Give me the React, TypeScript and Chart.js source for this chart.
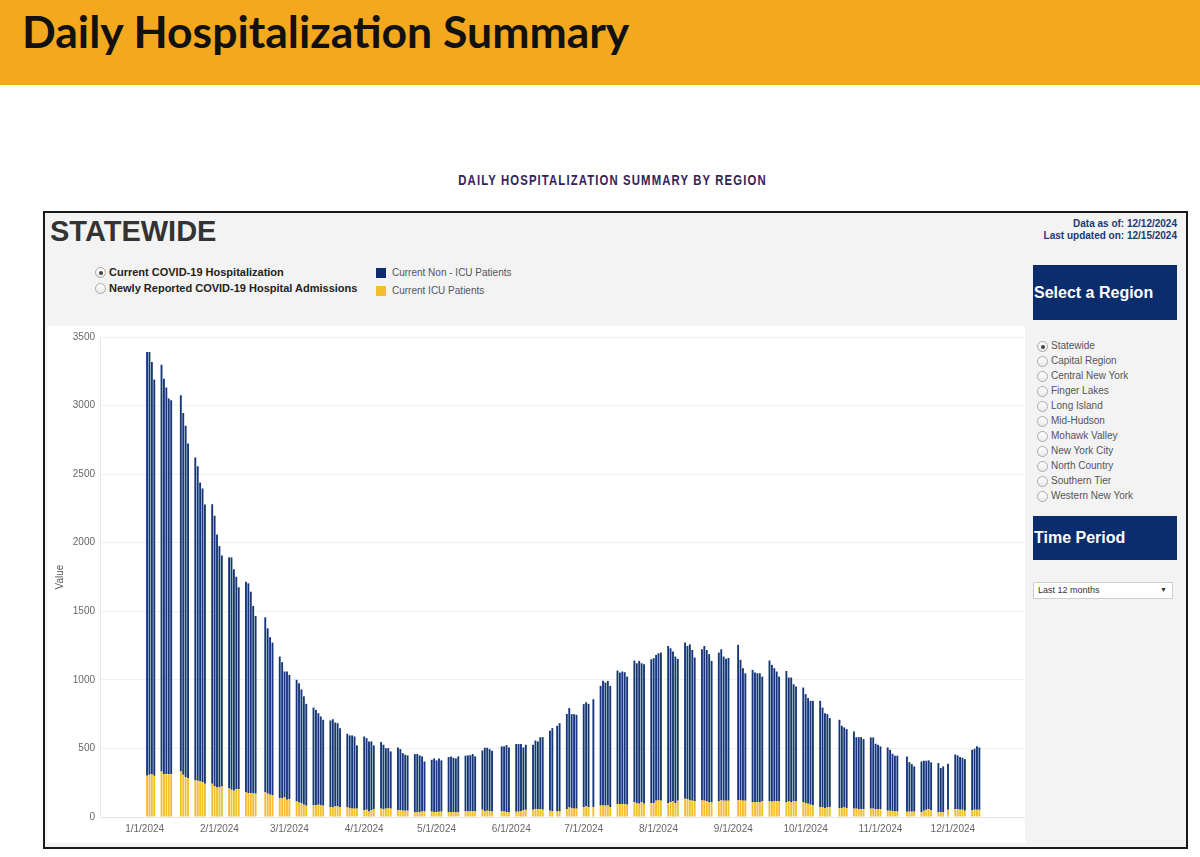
import React, { useEffect, useRef } from "react";
import { Chart, registerables } from "chart.js";

Chart.register(...registerables);

// Reporting calendar: weekdays between these dates, skipping holidays
const firstReportDay = "2024-01-02";
const lastReportDay = "2024-12-12";
const holidays = [
  "2024-01-15", "2024-02-19", "2024-05-27", "2024-06-19", "2024-07-04",
  "2024-09-02", "2024-10-14", "2024-11-11", "2024-11-28",
];

// Visible date window of the x axis
const axisFirstDay = "2023-12-14";
const axisLastDay = "2024-12-30";

const monthTickLabels = [
  "1/1/2024", "2/1/2024", "3/1/2024", "4/1/2024", "5/1/2024", "6/1/2024",
  "7/1/2024", "8/1/2024", "9/1/2024", "10/1/2024", "11/1/2024", "12/1/2024",
];

const yTicks = [0, 500, 1000, 1500, 2000, 2500, 3000, 3500];

// Current ICU patients, one value per reporting day (one line per week)
const icuPatients = [
  300, 308, 312, 300,
  332, 313, 313, 313, 313,
  332, 308, 291, 284,
  267, 265, 260, 255, 243,
  243, 225, 216, 218, 223,
  211, 199, 192, 204, 204,
  180, 175, 175, 175, 170,
  180, 170, 163, 158,
  138, 138, 143, 126, 131,
  114, 105, 100, 90, 83,
  85, 85, 90, 85, 83,
  73, 73, 78, 78, 73,
  70, 66, 61, 61, 61,
  49, 53, 41, 49, 58,
  61, 58, 61, 63, 61,
  49, 49, 46, 46, 46,
  36, 36, 36, 41, 40,
  39, 36, 36, 39, 39,
  36, 36, 34, 34, 34,
  41, 41, 41, 41, 41,
  53, 41, 46, 41, 41,
  41, 41, 36, 36,
  39, 39, 44, 49, 53,
  53, 58, 58, 58, 53,
  46, 41, 41, 41,
  58, 70, 66, 61, 61,
  73, 78, 73, 73,
  83, 83, 83, 85, 73,
  95, 95, 95, 95, 90,
  109, 102, 97, 109, 97,
  102, 102, 119, 121, 119,
  102, 109, 114, 102, 119,
  133, 131, 121, 119, 114,
  121, 119, 114, 109, 107,
  114, 121, 119, 119, 119,
  121, 121, 119, 119,
  107, 107, 107, 109, 114,
  114, 112, 114, 116, 114,
  107, 114, 109, 114, 114,
  109, 102, 97, 90, 85,
  73, 70, 66, 70, 73,
  66, 66, 70, 66,
  61, 61, 58, 58, 58,
  61, 61, 58, 58, 58,
  46, 46, 41, 41, 41,
  39, 39, 39, 39,
  36, 46, 53, 58, 49,
  34, 34, 36, 53,
  58, 58, 53, 53, 46,
  49, 53, 53, 53,
];

// Current non-ICU patients, same reporting days
const nonIcuPatients = [
  3090, 3082, 3006, 2891,
  2966, 2883, 2818, 2738, 2726,
  2743, 2638, 2561, 2439,
  2354, 2293, 2179, 2140, 2036,
  2038, 1971, 1844, 1757, 1684,
  1682, 1694, 1614, 1548, 1471,
  1536, 1529, 1468, 1364, 1296,
  1276, 1206, 1148, 1114,
  1032, 991, 918, 935, 905,
  886, 870, 830, 790, 742,
  713, 696, 667, 648, 626,
  631, 640, 611, 606, 575,
  537, 529, 534, 526, 461,
  538, 522, 510, 502, 464,
  485, 469, 441, 439, 417,
  458, 446, 420, 408, 403,
  423, 423, 413, 401, 365,
  378, 391, 377, 388, 374,
  401, 406, 398, 393, 408,
  406, 408, 410, 418, 401,
  432, 464, 459, 454, 442,
  474, 474, 488, 471,
  493, 493, 488, 458, 474,
  474, 500, 493, 524, 529,
  583, 607, 624, 643,
  694, 724, 684, 689, 684,
  750, 759, 752, 786,
  873, 910, 897, 908, 883,
  973, 958, 966, 961, 934,
  1032, 1019, 1041, 1012, 1017,
  1048, 1056, 1063, 1073, 1080,
  1145, 1121, 1092, 1068, 1034,
  1139, 1116, 1138, 1099, 1049,
  1102, 1128, 1104, 1078, 1031,
  1085, 1102, 1051, 1034, 1041,
  1134, 1025, 966, 929,
  966, 946, 941, 939, 910,
  1027, 997, 971, 945, 910,
  958, 903, 908, 854, 837,
  835, 794, 770, 757, 762,
  774, 728, 691, 680, 648,
  643, 599, 583, 575,
  563, 521, 524, 524, 510,
  519, 519, 476, 469, 457,
  461, 444, 420, 406, 406,
  403, 361, 347, 330,
  369, 364, 357, 355, 349,
  359, 323, 333, 335,
  398, 391, 384, 379, 376,
  441, 445, 462, 454,
];

const regions = [
  "Statewide", "Capital Region", "Central New York", "Finger Lakes", "Long Island",
  "Mid-Hudson", "Mohawk Valley", "New York City", "North Country", "Southern Tier",
  "Western New York",
];

const NAVY = "#0E2D6D";
const BAR_NAVY = "#153777";
const GOLD = "#F3BF2D";
const SANS = "'Liberation Sans', Arial, Helvetica, sans-serif";

const DAY_MS = 86400000;
const EPOCH = Date.UTC(2024, 0, 1);

function isoToDay(iso: string): number {
  const [y, m, d] = iso.split("-").map(Number);
  return Math.round((Date.UTC(y, m - 1, d) - EPOCH) / DAY_MS);
}

function usToDay(label: string): number {
  const [m, d, y] = label.split("/").map(Number);
  return Math.round((Date.UTC(y, m - 1, d) - EPOCH) / DAY_MS);
}

function reportDays(): number[] {
  const skip = new Set(holidays.map(isoToDay));
  const out: number[] = [];
  for (let i = isoToDay(firstReportDay); i <= isoToDay(lastReportDay); i++) {
    const dow = new Date(EPOCH + i * DAY_MS).getUTCDay();
    if (dow === 0 || dow === 6 || skip.has(i)) continue;
    out.push(i);
  }
  return out;
}

function HospitalChart() {
  const ref = useRef<HTMLCanvasElement | null>(null);

  useEffect(() => {
    if (!ref.current) return;
    const days = reportDays();
    const n = Math.min(days.length, icuPatients.length, nonIcuPatients.length);
    const icuData = [];
    const nonIcuData = [];
    for (let i = 0; i < n; i++) {
      icuData.push({ x: days[i], y: icuPatients[i] });
      nonIcuData.push({ x: days[i], y: nonIcuPatients[i] });
    }
    const tickDays = monthTickLabels.map(usToDay);
    const tickText = new Map<number, string>();
    tickDays.forEach((d, i) => tickText.set(d, monthTickLabels[i]));
    const font = { family: SANS, size: 10 };

    const chart = new Chart(ref.current, {
      type: "bar",
      data: {
        datasets: [
          {
            label: "Current ICU Patients",
            data: icuData,
            backgroundColor: GOLD,
            barPercentage: 0.78,
            categoryPercentage: 1,
          },
          {
            label: "Current Non - ICU Patients",
            data: nonIcuData,
            backgroundColor: BAR_NAVY,
            barPercentage: 0.78,
            categoryPercentage: 1,
          },
        ],
      },
      options: {
        animation: false,
        responsive: false,
        maintainAspectRatio: false,
        layout: { padding: { top: 11, bottom: 2, left: 0, right: 1 } },
        plugins: {
          legend: { display: false },
          tooltip: { enabled: false },
        },
        scales: {
          x: {
            type: "linear",
            stacked: true,
            offset: false,
            min: isoToDay(axisFirstDay) - 0.5,
            max: isoToDay(axisLastDay) + 0.5,
            grid: { display: false, offset: false, drawTicks: false, tickLength: 0 },
            border: { display: true, color: "#e6e6e6" },
            afterBuildTicks: (scale: any) => {
              scale.ticks = tickDays.map((v) => ({ value: v }));
            },
            ticks: {
              autoSkip: false,
              maxRotation: 0,
              padding: 6,
              color: "#666",
              font,
              callback: (v: any) => tickText.get(Number(v)) ?? "",
            },
          },
          y: {
            stacked: true,
            min: 0,
            max: 3500,
            afterBuildTicks: (scale: any) => {
              scale.ticks = yTicks.map((v) => ({ value: v }));
            },
            ticks: {
              padding: 5,
              color: "#666",
              font,
              callback: (v: any) => String(v),
            },
            grid: { color: "#f0f0f0", drawTicks: false },
            border: { display: true, color: "#e6e6e6" },
            title: {
              display: true,
              text: "Value",
              color: "#555",
              font,
              padding: { top: 7, bottom: 0 },
            },
            afterFit: (scale: any) => {
              scale.width = 53;
            },
          },
        },
      } as any,
    });
    return () => chart.destroy();
  }, []);

  return <canvas ref={ref} width={978} height={517} style={{ display: "block" }} />;
}

function Radio({ checked }: { checked: boolean }) {
  return (
    <div
      style={{
        width: 11,
        height: 11,
        boxSizing: "border-box",
        borderRadius: "50%",
        border: "1px solid #aaa",
        background: "linear-gradient(#ffffff, #e9e9e9)",
        position: "relative",
      }}
    >
      {checked && (
        <div
          style={{
            position: "absolute",
            left: 2.5,
            top: 2.5,
            width: 4,
            height: 4,
            borderRadius: "50%",
            background: "#444",
          }}
        />
      )}
    </div>
  );
}

function Text(props: {
  x: number;
  y: number;
  size: number;
  children: React.ReactNode;
  bold?: boolean;
  color?: string;
  align?: "left" | "right";
  family?: string;
  extra?: React.CSSProperties;
}) {
  const { x, y, size, bold, color, align, family, extra } = props;
  const lh = Math.round(size * 1.4);
  const style: React.CSSProperties = {
    position: "absolute",
    top: y - lh / 2,
    lineHeight: `${lh}px`,
    fontSize: size,
    fontWeight: bold ? 700 : 400,
    color: color ?? "#333",
    fontFamily: family ?? SANS,
    whiteSpace: "nowrap",
    ...extra,
  };
  if (align === "right") style.right = 1200 - x;
  else style.left = x;
  return <div style={style}>{props.children}</div>;
}

export default function App() {
  return (
    <div
      style={{
        position: "absolute",
        left: 0,
        top: 0,
        width: 1200,
        height: 857,
        overflow: "hidden",
        background: "#fff",
        fontFamily: SANS,
      }}
    >
      {/* page banner */}
      <div
        style={{
          position: "absolute",
          left: 0,
          top: 0,
          width: 1200,
          height: 85,
          background: "#F4A81D",
        }}
      />
      <div
        style={{
          position: "absolute",
          left: 22,
          top: 4,
          fontFamily: "Lato, 'Open Sans', sans-serif",
          fontWeight: 700,
          fontSize: 44.5,
          lineHeight: "54px",
          color: "#111",
          whiteSpace: "nowrap",
        }}
      >
        Daily Hospitalization Summary
      </div>

      {/* section heading */}
      <div
        style={{
          position: "absolute",
          left: 0,
          width: 1225,
          top: 170,
          textAlign: "center",
          lineHeight: "20px",
          fontFamily: SANS,
          fontWeight: 700,
          fontSize: 15,
          letterSpacing: 1.5,
          color: "#33235C",
          transform: "scaleX(0.755)",
          transformOrigin: "612.5px 50%",
        }}
      >
        DAILY HOSPITALIZATION SUMMARY BY REGION
      </div>

      {/* dashboard frame */}
      <div
        style={{
          position: "absolute",
          left: 43,
          top: 211,
          width: 1145,
          height: 638,
          boxSizing: "border-box",
          border: "2px solid #1a1a1a",
          background: "#F3F3F3",
        }}
      />

      <Text x={50} y={231} size={29} bold color="#333">
        STATEWIDE
      </Text>

      <Text x={1177} y={224} size={10} bold color="#1B3A78" align="right">
        Data as of: 12/12/2024
      </Text>
      <Text x={1177} y={236} size={10} bold color="#1B3A78" align="right">
        Last updated on: 12/15/2024
      </Text>

      {/* measure selector */}
      <div style={{ position: "absolute", left: 95, top: 267 }}>
        <Radio checked />
      </div>
      <Text x={109} y={272} size={11} bold color="#222">
        Current COVID-19 Hospitalization
      </Text>
      <div style={{ position: "absolute", left: 95, top: 283 }}>
        <Radio checked={false} />
      </div>
      <Text x={109} y={288} size={11} bold color="#222">
        Newly Reported COVID-19 Hospital Admissions
      </Text>

      {/* series legend */}
      <div style={{ position: "absolute", left: 376, top: 268, width: 10, height: 10, background: NAVY }} />
      <Text x={392} y={273} size={10} color="#555">
        Current Non - ICU Patients
      </Text>
      <div style={{ position: "absolute", left: 376, top: 286, width: 10, height: 10, background: GOLD }} />
      <Text x={392} y={291} size={10} color="#555">
        Current ICU Patients
      </Text>

      {/* chart panel */}
      <div
        style={{
          position: "absolute",
          left: 47,
          top: 326,
          width: 978,
          height: 517,
          background: "#fff",
        }}
      >
        <HospitalChart />
      </div>

      {/* region filter */}
      <div
        style={{
          position: "absolute",
          left: 1033,
          top: 265,
          width: 144,
          height: 55,
          background: "#0A2D6E",
        }}
      />
      <Text x={1034} y={293} size={16} bold color="#fff">
        Select a Region
      </Text>
      {regions.map((r, i) => (
        <React.Fragment key={r}>
          <div style={{ position: "absolute", left: 1037, top: 341 + i * 15 }}>
            <Radio checked={i === 0} />
          </div>
          <Text x={1051} y={346 + i * 15} size={10} color="#555">
            {r}
          </Text>
        </React.Fragment>
      ))}

      {/* time period filter */}
      <div
        style={{
          position: "absolute",
          left: 1033,
          top: 516,
          width: 144,
          height: 44,
          background: "#0A2D6E",
        }}
      />
      <Text x={1034} y={538} size={16} bold color="#fff">
        Time Period
      </Text>
      <div
        style={{
          position: "absolute",
          left: 1033,
          top: 582,
          width: 140,
          height: 17,
          boxSizing: "border-box",
          border: "1px solid #cfcfcf",
          background: "#fff",
        }}
      />
      <Text x={1038} y={590} size={9} color="#333">
        Last 12 months
      </Text>
      <Text x={1160} y={590} size={7} color="#333">
        ▼
      </Text>
    </div>
  );
}
